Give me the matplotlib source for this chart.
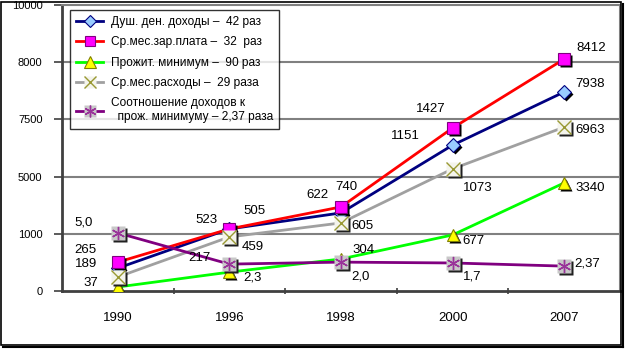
import matplotlib
matplotlib.use('Agg')
import matplotlib.pyplot as plt
from matplotlib.lines import Line2D
from matplotlib.patches import Rectangle
import matplotlib.transforms as mtransforms

plt.rcParams['font.family'] = ['Liberation Sans', 'DejaVu Sans']

years = ['1990', '1996', '1998', '2000', '2007']
# heights of the points as drawn in the picture (axis units)
income_pos = [800, 2170, 2730, 5100, 6960]
wage_pos = [1010, 2170, 2940, 5700, 8110]
minimum_pos = [140, 660, 1120, 1960, 3780]
spend_pos = [490, 1890, 2380, 4270, 5730]
ratio_pos = [2030, 940, 1010, 980, 870]
# value labels printed on the chart
income_lbl = ['189', '523', '622', '1151', '7938']
wage_lbl = ['265', '505', '740', '1427', '8412']
minimum_lbl = ['37', '217', '304', '677', '3340']
spend_lbl = ['', '459', '605', '1073', '6963']
ratio_lbl = ['5,0', '2,3', '2,0', '1,7', '2,37']
ytick_vals = [0, 2000, 4000, 6000, 8000, 10000]
ytick_lbls = ['0', '1000', '5000', '7500', '8000', '10000']
legend_lbls = ['Душ. ден. доходы –  42 раз',
               'Ср.мес.зар.плата –  32  раз',
               'Прожит. минимум –  90 раз',
               'Ср.мес.расходы –  29 раза',
               'Соотношение доходов к\n  прож. минимуму – 2,37 раза']

fig = plt.figure(figsize=(6.26, 3.49), dpi=100)
W, H = 626, 349
ax = fig.add_axes([62 / W, (H - 291) / H, 558 / W, 286 / H])
ax.set_xlim(-0.5, 4.5)
ax.set_ylim(0, 10000)
x = list(range(len(years)))

shadow = mtransforms.offset_copy(ax.transData, fig=fig, x=2, y=-2, units='dots')

series = [
    dict(pos=income_pos, lbl=income_lbl, color='#000080', marker='D', mfc='#99CCFF', mec='#000080', ms=7.5,
         off=[(-32, 4), (-23, 9), (-24, 18), (-47, 9), (26, 8)]),
    dict(pos=wage_pos, lbl=wage_lbl, color='#FF0000', marker='s', mfc='#FF00FF', mec='#800080', ms=8.5,
         off=[(-32, 12), (25, 18), (5, 20), (-22, 19), (27, 11)]),
    dict(pos=minimum_pos, lbl=minimum_lbl, color='#00FF00', marker='^', mfc='#FFFF00', mec='#808000', ms=9,
         off=[(-27, 4), (-30, 14), (23, 9), (21, -6), (26, -5)]),
    dict(pos=spend_pos, lbl=spend_lbl, color='#A0A0A0', marker='x', mfc='#F4F4EC', mec='#999933', ms=8.5,
         off=[None, (23, -10), (21, -3), (25, -19), (26, -3)]),
    dict(pos=ratio_pos, lbl=ratio_lbl, color='#800080', marker='*', mfc='#C8C8C8', mec='#993399', ms=8.5,
         off=[(-34, 10), (23, -13), (20, -14), (20, -14), (23, 3)]),
]

for gy in ytick_vals[1:-1]:
    ax.axhline(gy, color='#808080', lw=1.5, zorder=1)

for i, s in enumerate(series):
    ax.plot(x, s['pos'], color=s['color'], lw=2, zorder=3 + i * 0.1, solid_capstyle='round')

for i, s in enumerate(series):
    z = 5 + i * 0.1
    if s['marker'] in ('x', '*'):
        # boxed marker (Excel-like)
        ax.plot(x, s['pos'], ls='none', marker='s', ms=s['ms'] + 1, mfc='#202020', mec='none',
                transform=shadow, zorder=z)
        ax.plot(x, s['pos'], ls='none', marker='s', ms=s['ms'] + 1, mfc=s['mfc'], mec='none', zorder=z + 0.01)
        mk = 'x' if s['marker'] == 'x' else (6, 2, 0)
        ax.plot(x, s['pos'], ls='none', marker=mk, ms=s['ms'] + 1, mec=s['mec'], mew=1.0, zorder=z + 0.02)
    else:
        ax.plot(x, s['pos'], ls='none', marker=s['marker'], ms=s['ms'], mfc='#000000', mec='none',
                transform=shadow, zorder=z)
        ax.plot(x, s['pos'], ls='none', marker=s['marker'], ms=s['ms'], mfc=s['mfc'], mec=s['mec'],
                mew=0.8, zorder=z + 0.01)
    for xi, yi, t, o in zip(x, s['pos'], s['lbl'], s['off']):
        if o is None or t == '':
            continue
        ax.annotate(t, xy=(xi, yi), xytext=o, textcoords='offset pixels', ha='center', va='center',
                    fontsize=9.5, color='black', zorder=10)

ax.set_yticks(ytick_vals)
ax.set_yticklabels(ytick_lbls, fontsize=8)
ax.set_xticks(x)
ax.set_xticklabels(years, fontsize=9.5)
ax.set_xticks([k + 0.5 for k in range(len(years) - 1)], minor=True)
ax.tick_params(axis='x', which='major', length=0, pad=15)
ax.tick_params(axis='x', which='minor', length=4, direction='inout', color='#404040', width=1.2)
ax.tick_params(axis='y', length=6, direction='out', color='#404040', width=1.2, pad=8)

for sp in ['top', 'right']:
    ax.spines[sp].set_color('#808080')
    ax.spines[sp].set_linewidth(1.5)
for sp in ['left', 'bottom']:
    ax.spines[sp].set_color('#404040')
    ax.spines[sp].set_linewidth(2)

# legend
handles = []
for s in series:
    ln = Line2D([], [], color=s['color'], lw=2)
    if s['marker'] in ('x', '*'):
        mk = 'x' if s['marker'] == 'x' else (6, 2, 0)
        bg = Line2D([], [], ls='none', marker='s', ms=s['ms'], mfc=s['mfc'], mec='none')
        fg = Line2D([], [], ls='none', marker=mk, ms=s['ms'], mec=s['mec'], mew=1.0)
        handles.append((ln, bg, fg))
    else:
        mk = Line2D([], [], ls='none', marker=s['marker'], ms=s['ms'] - 1, mfc=s['mfc'], mec=s['mec'], mew=0.8)
        handles.append((ln, mk))
leg = ax.legend(handles, legend_lbls, loc='upper left', bbox_to_anchor=(8 / 558, 1 - 5 / 286),
                borderaxespad=0, fontsize=8.6, frameon=True, fancybox=False, edgecolor='#000000',
                handlelength=2.3, handletextpad=0.6, labelspacing=0.7, borderpad=0.5)
leg.get_frame().set_linewidth(1.0)
leg.set_zorder(20)

# outer frame
fig.patches.append(Rectangle((1 / W, 4 / H), 620 / W, 343 / H, transform=fig.transFigure,
                             fill=False, edgecolor='black', lw=1.2))
fig.lines.append(Line2D([3 / W, 623 / W], [2 / H, 2 / H], transform=fig.transFigure, color='black', lw=1.5))
fig.lines.append(Line2D([623 / W, 623 / W], [2 / H, 345 / H], transform=fig.transFigure, color='black', lw=1.5))

fig.savefig('out.png', dpi=100)
